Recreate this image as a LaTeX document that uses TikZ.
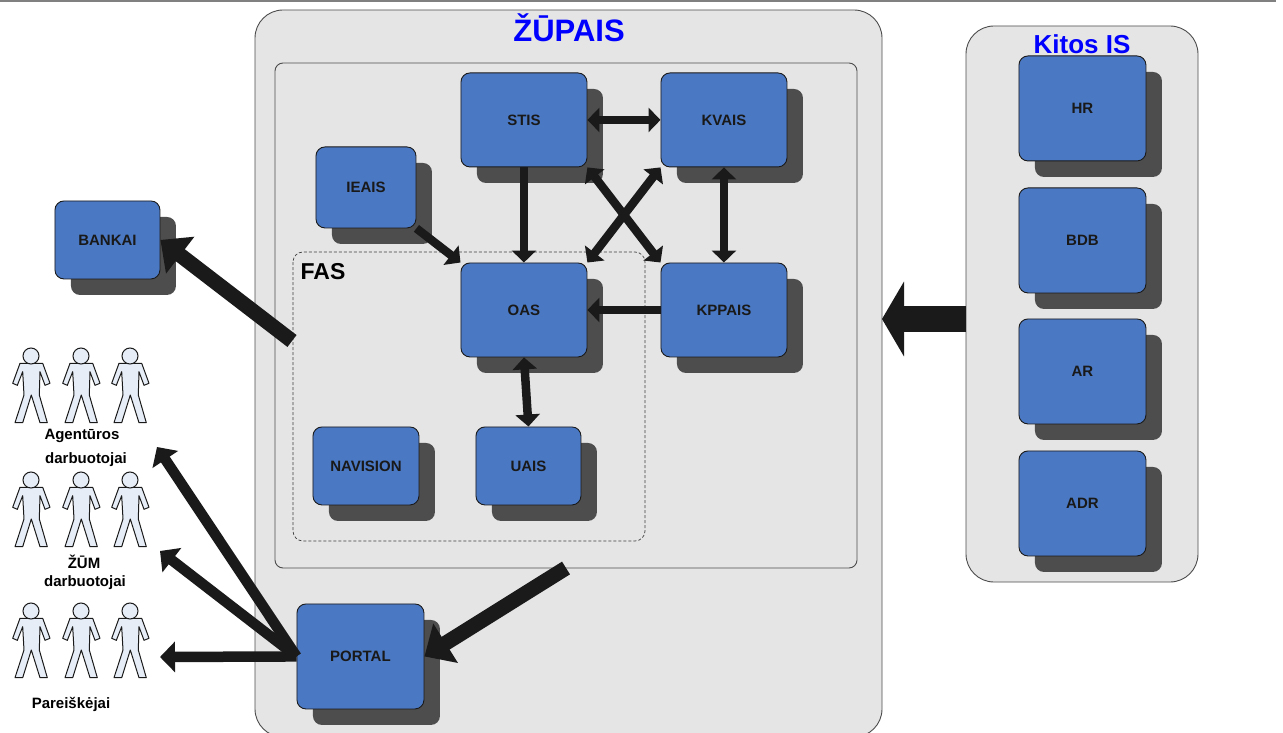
\documentclass[tikz,border=0pt]{standalone}
\usepackage{fontspec}
\setmainfont{Liberation Sans}
\usetikzlibrary{arrows.meta,shadows}
\definecolor{panel}{HTML}{E5E5E5}
\definecolor{boxblue}{HTML}{4A78C2}
\definecolor{shade}{HTML}{4D4D4D}
\definecolor{ink}{HTML}{1A1A1A}
\definecolor{personfill}{HTML}{E6EDF7}
\definecolor{title}{HTML}{0000FF}
\tikzset{
  x=1pt,y=-1pt,
  panelbox/.style={draw=black!70,line width=0.9pt,fill=panel},
  sysbox/.style={draw=ink,line width=0.9pt,fill=boxblue,rounded corners=9pt,anchor=north west,
    inner sep=0pt,font=\fontsize{15}{15}\selectfont\bfseries,text=black!90,align=center,
    drop shadow={shadow xshift=16pt,shadow yshift=-16pt,fill=shade,opacity=1}},
  flow/.style={draw=ink,line width=8.5pt,-{Triangle[length=12pt,width=24pt,fill=ink]}},
  flowboth/.style={draw=ink,line width=8.5pt,{Triangle[length=12pt,width=24pt,fill=ink]}-{Triangle[length=12pt,width=24pt,fill=ink]}},
  bigflow/.style={draw=ink,line width=10.5pt,-{Triangle[length=15pt,width=30pt,fill=ink]}},
  hugeflow/.style={draw=ink,line width=15pt,-{Triangle[length=25pt,width=45pt,fill=ink]}},
  widest/.style={draw=ink,line width=26pt,-{Triangle[length=22pt,width=74pt,fill=ink]}},
  caption/.style={font=\fontsize{15}{15}\selectfont\bfseries,text=black,inner sep=0pt},
  person/.pic={
    \draw[draw=ink,line width=1pt,fill=personfill,line join=round]
      (-11,7.3)--(-18.3,27.3)--(-13.7,29.3)--(-8.3,15.7)--(-7,39)--(-16,66.7)--(-8.3,66.7)--(0.3,39)
      --(9,66.7)--(16.3,66.7)--(8.3,39)--(9,15.7)--(14,29.3)--(19,27.3)--(11.7,7.3)--cycle;
    \draw[draw=ink,line width=1pt,fill=personfill] (0,0) circle[radius=8pt];
  }
}
\newcommand{\sysnode}[6]{\node[sysbox,minimum width=#5pt,minimum height=#6pt] (#1) at (#3-0.5,#4-0.5) {#2};}
\begin{document}
\begin{tikzpicture}
\useasboundingbox (0,0) rectangle (1283,733);
\fill[black!50] (0,0) rectangle (1276,2);
% containers
\begin{scope}
\clip (0,0) rectangle (1283,733);
\draw[panelbox,rounded corners=28pt] (255,10) rectangle (882,737);
\end{scope}
\draw[panelbox,rounded corners=28pt] (966,26) rectangle (1198,582);
\draw[panelbox,rounded corners=8pt] (275,63) rectangle (857,568);
\draw[draw=black!75,line width=0.7pt,dash pattern=on 3pt off 2pt,rounded corners=10pt] (293,252) rectangle (645,541);
\node[font=\fontsize{31}{31}\selectfont\bfseries,text=title,inner sep=0pt] (ztitle) at (569,28) {ŽŪPAIS};
\node[font=\fontsize{26}{26}\selectfont\bfseries,text=title,inner sep=0pt] (ktitle) at (1082,44) {Kitos IS};
\node[font=\fontsize{23}{23}\selectfont\bfseries,text=black,inner sep=0pt] (fas) at (323,272) {FAS};
% free ends
\coordinate (fasout) at (292,341);
\coordinate (inout) at (566,568);
\coordinate (agtip) at (157,447);
\coordinate (zumtip) at (160,551);
\coordinate (partip) at (160,657);
\coordinate (kitosout) at (966,319);
\coordinate (zupin) at (882,319);
% boxes
\sysnode{stis}{STIS}{461}{73}{126}{94}
\sysnode{kvais}{KVAIS}{661}{73}{126}{94}
\sysnode{oas}{OAS}{461}{263}{126}{94}
\sysnode{kppais}{KPPAIS}{661}{263}{126}{94}
\sysnode{ieais}{IEAIS}{316}{147}{100}{81}
\sysnode{bankai}{BANKAI}{55}{201}{105}{78}
\sysnode{navision}{NAVISION}{313}{427}{106}{78}
\sysnode{uais}{UAIS}{476}{427}{105}{78}
\sysnode{portal}{PORTAL}{297}{604}{127}{105}
\sysnode{hr}{HR}{1019}{56}{127}{105}
\sysnode{bdb}{BDB}{1019}{188}{127}{105}
\sysnode{ar}{AR}{1019}{319}{127}{105}
\sysnode{adr}{ADR}{1019}{451}{127}{105}
% people
\foreach \py/\pn in {356/a,480/b,611/c}
  \foreach \px/\pm in {31/1,81/2,130/3}
    \pic (p\pn\pm) at (\px,\py) {person};
\node[caption] (lagent) at (82,436) {Agentūros};
\node[caption] (ldarb) at (86,460) {darbuotojai};
\node[caption] (lzum) at (84,562) {ŽŪM};
\node[caption] (lzumd) at (85,583) {darbuotojai};
\node[caption] (lpar) at (71,704) {Pareiškėjai};
% connectors
\draw[flowboth] (stis.east) -- (kvais.west);
\draw[flow] (stis.south) -- (oas.north);
\draw[flowboth] (stis.south east) -- (kppais.north west);
\draw[flowboth] (kvais.south west) -- (oas.north east);
\draw[flowboth] (kvais.south) -- (kppais.north);
\draw[flow] (kppais.west) -- (oas.east);
\draw[flowboth] (oas.south) -- (uais.north);
\draw[flow] (ieais.south east) -- (oas.north west);
\draw[hugeflow] (fasout) -- (bankai.east);
\draw[hugeflow] (inout) -- (portal.east);
\draw[bigflow] (portal.west) -- (agtip);
\draw[bigflow] (portal.west) -- (zumtip);
\draw[bigflow] (portal.west) -- (partip);
\draw[widest] (kitosout) -- (zupin);
\end{tikzpicture}
\end{document}
